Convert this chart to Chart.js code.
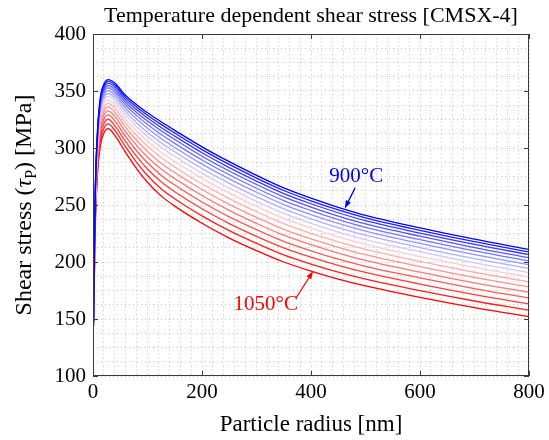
<!DOCTYPE html>
<html>
<head>
<meta charset="utf-8">
<script src="https://cdn.jsdelivr.net/npm/chart.js@4.4.0/dist/chart.umd.min.js"></script>
<style>
  html, body { margin: 0; padding: 0; background: #fff; }
  #wrap { width: 549px; height: 440px; }
</style>
</head>
<body>
<div id="wrap"><canvas id="myChart" width="549" height="440"></canvas></div>
<script>
// particle radius [nm]
const radius = [1, 4, 8, 14, 20, 28, 40, 60, 80, 100, 125, 150, 200, 250, 300, 350, 400, 450, 500, 600, 700, 800];
const temperatures = [900, 910, 920, 930, 940, 950, 960, 970, 980, 990, 1000, 1010, 1020, 1030, 1040, 1050];

// shear stress [MPa], one list per temperature
const tau900  = [148.0, 258.0, 313.0, 346.0, 356.0, 360.0, 357.0, 346.0, 338.0, 331.0, 323.0, 315.5, 301.0, 288.0, 276.0, 265.0, 256.0, 248.0, 241.0, 230.0, 220.0, 211.0];
const tau910  = [147.9, 256.9, 311.6, 344.5, 354.5, 358.5, 355.3, 344.2, 336.0, 328.8, 320.7, 313.1, 298.6, 285.6, 273.6, 262.7, 253.7, 245.7, 238.8, 227.8, 217.8, 208.9];
const tau920  = [147.7, 255.7, 310.1, 342.7, 352.7, 356.7, 353.5, 342.2, 333.7, 326.3, 318.0, 310.4, 295.8, 282.8, 270.9, 260.0, 251.1, 243.2, 236.2, 225.3, 215.4, 206.5];
const tau930  = [147.5, 254.3, 308.4, 340.8, 350.8, 354.8, 351.4, 339.9, 331.2, 323.6, 315.1, 307.4, 292.8, 279.8, 268.0, 257.1, 248.2, 240.3, 233.4, 222.6, 212.7, 203.8];
const tau940  = [147.3, 252.9, 306.5, 338.7, 348.7, 352.7, 349.1, 337.5, 328.4, 320.6, 311.9, 304.1, 289.5, 276.5, 264.7, 253.9, 245.1, 237.2, 230.4, 219.6, 209.7, 200.9];
const tau950  = [147.1, 251.3, 304.5, 336.3, 346.3, 350.3, 346.7, 334.8, 325.4, 317.3, 308.4, 300.5, 285.9, 272.9, 261.2, 250.4, 241.6, 233.8, 227.1, 216.3, 206.5, 197.7];
const tau960  = [146.9, 249.5, 302.3, 333.8, 343.8, 347.8, 344.0, 331.9, 322.2, 313.7, 304.6, 296.7, 282.0, 269.0, 257.3, 246.6, 237.9, 230.2, 223.5, 212.7, 203.0, 194.3];
const tau970  = [146.6, 247.7, 299.9, 331.2, 341.2, 345.2, 341.1, 328.8, 318.7, 310.0, 300.6, 292.6, 277.9, 264.9, 253.2, 242.6, 233.9, 226.3, 219.6, 209.0, 199.3, 190.6];
const tau980  = [146.4, 245.6, 297.3, 328.3, 338.3, 342.3, 338.1, 325.4, 314.9, 305.9, 296.2, 288.1, 273.4, 260.4, 248.8, 238.2, 229.6, 222.0, 215.5, 204.9, 195.3, 186.7];
const tau990  = [146.1, 243.5, 294.7, 325.2, 335.2, 339.2, 334.8, 321.9, 311.0, 301.5, 291.6, 283.4, 268.6, 255.6, 244.1, 233.6, 225.1, 217.6, 211.1, 200.5, 191.0, 182.5];
const tau1000 = [145.8, 241.3, 291.8, 322.0, 332.0, 336.0, 331.3, 318.1, 306.8, 297.0, 286.7, 278.4, 263.6, 250.6, 239.2, 228.7, 220.3, 212.9, 206.4, 196.0, 186.5, 178.1];
const tau1010 = [145.5, 238.9, 288.8, 318.6, 328.6, 332.6, 327.7, 314.1, 302.3, 292.1, 281.5, 273.1, 258.3, 245.3, 233.9, 223.5, 215.2, 207.8, 201.4, 191.1, 181.7, 173.4];
const tau1020 = [145.1, 236.3, 285.6, 315.0, 325.0, 329.0, 323.8, 309.9, 297.6, 287.0, 276.1, 267.5, 252.6, 239.6, 228.4, 218.1, 209.8, 202.5, 196.2, 186.0, 176.7, 168.4];
const tau1030 = [144.8, 233.7, 282.2, 311.2, 321.2, 325.2, 319.7, 305.5, 292.6, 281.6, 270.4, 261.6, 246.7, 233.7, 222.5, 212.4, 204.2, 197.0, 190.8, 180.6, 171.4, 163.2];
const tau1040 = [144.4, 230.9, 278.7, 307.2, 317.2, 321.2, 315.5, 300.9, 287.4, 275.9, 264.3, 255.5, 240.5, 227.5, 216.4, 206.3, 198.2, 191.1, 185.0, 174.9, 165.8, 157.7];
const tau1050 = [144.0, 228.0, 275.0, 303.0, 313.0, 317.0, 311.0, 296.0, 282.0, 270.0, 258.0, 249.0, 234.0, 221.0, 210.0, 200.0, 192.0, 185.0, 179.0, 169.0, 160.0, 152.0];

const tauSeries = [tau900, tau910, tau920, tau930, tau940, tau950, tau960, tau970,
                   tau980, tau990, tau1000, tau1010, tau1020, tau1030, tau1040, tau1050];

const xTicks = [0, 200, 400, 600, 800];
const yTicks = [100, 150, 200, 250, 300, 350, 400];

// blue -> pale -> red
const lineColors = [
  'rgb(0,0,255)', 'rgb(29,29,255)', 'rgb(58,58,255)', 'rgb(87,87,255)',
  'rgb(116,116,255)', 'rgb(145,145,255)', 'rgb(174,174,255)', 'rgb(203,203,255)',
  'rgb(255,203,203)', 'rgb(255,174,174)', 'rgb(255,145,145)', 'rgb(255,116,116)',
  'rgb(255,87,87)', 'rgb(255,58,58)', 'rgb(255,29,29)', 'rgb(255,0,0)'
];

const FONT = '"Liberation Serif", "DejaVu Serif", serif';

const datasets = tauSeries.map((vals, i) => ({
  label: temperatures[i] + '°C',
  data: radius.map((r, j) => ({ x: r, y: vals[j] })),
  borderColor: lineColors[i],
  borderWidth: 1.3,
  pointRadius: 0,
  fill: false,
  cubicInterpolationMode: 'monotone'
}));

function isMajor(v, step) {
  return Math.abs(v / step - Math.round(v / step)) < 1e-6;
}

function arrow(ctx, x0, y0, x1, y1, color) {
  const ang = Math.atan2(y1 - y0, x1 - x0);
  const hl = 8, hw = 2.8;
  ctx.strokeStyle = color;
  ctx.fillStyle = color;
  ctx.lineWidth = 1.3;
  ctx.beginPath();
  ctx.moveTo(x0, y0);
  ctx.lineTo(x1 - hl * 0.8 * Math.cos(ang), y1 - hl * 0.8 * Math.sin(ang));
  ctx.stroke();
  ctx.beginPath();
  ctx.moveTo(x1, y1);
  ctx.lineTo(x1 - hl * Math.cos(ang) + hw * Math.sin(ang), y1 - hl * Math.sin(ang) - hw * Math.cos(ang));
  ctx.lineTo(x1 - hl * Math.cos(ang) - hw * Math.sin(ang), y1 - hl * Math.sin(ang) + hw * Math.cos(ang));
  ctx.closePath();
  ctx.fill();
}

const framePlugin = {
  id: 'frame',
  afterDraw(chart) {
    const { ctx, chartArea: a, scales } = chart;
    const xs = scales.x, ys = scales.y;
    ctx.save();

    // box + inward ticks
    ctx.strokeStyle = '#3a3a3a';
    ctx.lineWidth = 1;
    ctx.strokeRect(a.left + 0.5, a.top + 0.5, a.right - a.left - 1, a.bottom - a.top - 1);
    ctx.beginPath();
    xTicks.forEach(v => {
      const px = Math.round(xs.getPixelForValue(v)) + 0.5;
      ctx.moveTo(px, a.bottom); ctx.lineTo(px, a.bottom - 5);
      ctx.moveTo(px, a.top); ctx.lineTo(px, a.top + 5);
    });
    yTicks.forEach(v => {
      const py = Math.round(ys.getPixelForValue(v)) + 0.5;
      ctx.moveTo(a.left, py); ctx.lineTo(a.left + 5, py);
      ctx.moveTo(a.right, py); ctx.lineTo(a.right - 5, py);
    });
    ctx.stroke();

    // title
    ctx.fillStyle = '#000';
    ctx.font = '22px ' + FONT;
    ctx.textAlign = 'center';
    ctx.textBaseline = 'alphabetic';
    ctx.fillText('Temperature dependent shear stress [CMSX-4]', (a.left + a.right) / 2, 22);

    // x title
    ctx.font = '23px ' + FONT;
    ctx.fillText('Particle radius [nm]', (a.left + a.right) / 2, 431);

    // y title with subscript
    ctx.save();
    ctx.translate(31, (a.top + a.bottom) / 2);
    ctx.rotate(-Math.PI / 2);
    const p1 = 'Shear stress (', p3 = ') [MPa]';
    ctx.font = '24px ' + FONT;
    const w1 = ctx.measureText(p1).width;
    const w3 = ctx.measureText(p3).width;
    ctx.font = 'italic 24px ' + FONT;
    const wt = ctx.measureText('τ').width;
    ctx.font = '16px ' + FONT;
    const ws = ctx.measureText('P').width;
    let x = -(w1 + wt + ws + w3) / 2;
    ctx.textAlign = 'left';
    ctx.font = '24px ' + FONT;
    ctx.fillText(p1, x, 0); x += w1;
    ctx.font = 'italic 24px ' + FONT;
    ctx.fillText('τ', x, 0); x += wt;
    ctx.font = '16px ' + FONT;
    ctx.fillText('P', x, 5); x += ws;
    ctx.font = '24px ' + FONT;
    ctx.fillText(p3, x, 0);
    ctx.restore();

    // annotations (data coordinates)
    ctx.font = '21px ' + FONT;
    ctx.textAlign = 'center';
    ctx.textBaseline = 'middle';
    ctx.fillStyle = 'rgb(0,0,255)';
    ctx.fillText('900°C', xs.getPixelForValue(483), ys.getPixelForValue(275));
    arrow(ctx, xs.getPixelForValue(481), ys.getPixelForValue(265),
               xs.getPixelForValue(462), ys.getPixelForValue(247), 'rgb(0,0,255)');
    ctx.fillStyle = 'rgb(255,0,0)';
    ctx.fillText('1050°C', xs.getPixelForValue(317), ys.getPixelForValue(163));
    arrow(ctx, xs.getPixelForValue(372), ys.getPixelForValue(168),
               xs.getPixelForValue(404), ys.getPixelForValue(192), 'rgb(255,0,0)');
    ctx.restore();
  }
};

new Chart(document.getElementById('myChart').getContext('2d'), {
  type: 'line',
  data: { datasets: datasets },
  options: {
    responsive: false,
    animation: false,
    layout: { padding: { top: 34, right: 20, left: 0, bottom: 0 } },
    plugins: { legend: { display: false }, tooltip: { enabled: false }, title: { display: false } },
    scales: {
      x: {
        type: 'linear', min: 0, max: 800,
        afterFit: s => { s.height = 64; },
        border: { display: false, dash: [1, 3] },
        grid: { color: '#c6c6c6', lineWidth: 1, drawTicks: false },
        ticks: {
          stepSize: 20, autoSkip: false, maxRotation: 0, padding: 4,
          color: '#000', font: { family: FONT, size: 21 },
          callback: v => isMajor(v, 200) ? String(v) : ''
        }
      },
      y: {
        type: 'linear', min: 100, max: 400,
        afterFit: s => { s.width = 93; },
        border: { display: false, dash: [1, 3] },
        grid: { color: '#c6c6c6', lineWidth: 1, drawTicks: false },
        ticks: {
          stepSize: 12.5, autoSkip: false, padding: 7,
          color: '#000', font: { family: FONT, size: 21 },
          callback: v => isMajor(v, 50) ? String(v) : ''
        }
      }
    }
  },
  plugins: [framePlugin]
});
</script>
</body>
</html>
